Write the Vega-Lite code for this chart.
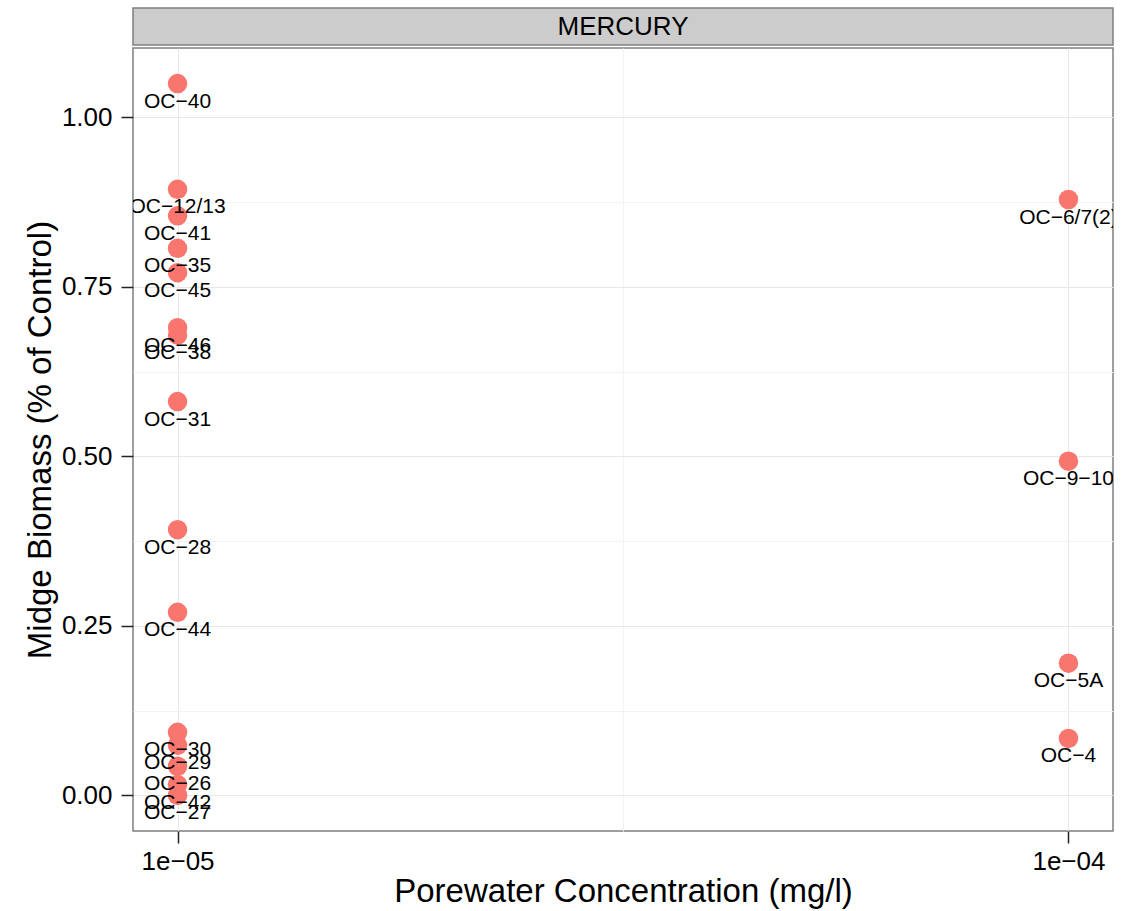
{
  "$schema": "https://vega.github.io/schema/vega-lite/v6.json",
  "background": "white",
  "padding": {"left": 23, "top": 7, "right": 5, "bottom": 0},
  "config": {"font": "Liberation Sans", "view": {"stroke": null}},
  "spacing": 1,
  "vconcat": [
    {
      "width": 980,
      "height": 37,
      "view": {"fill": "#CCCCCC", "stroke": "#7F7F7F", "strokeWidth": 1.5},
      "data": {"values": [{"panel": "MERCURY"}]},
      "mark": {"type": "text", "fontSize": 26, "font": "Liberation Sans", "color": "black", "baseline": "middle", "align": "center"},
      "encoding": {"text": {"field": "panel", "type": "nominal"}}
    },
    {
      "width": 980,
      "height": 783,
      "view": {"stroke": "#7F7F7F", "strokeWidth": 1.5},
      "data": {
        "values": [
          {"site": "OC−40", "conc": 0.00001, "biomass": 1.050},
          {"site": "OC−12/13", "conc": 0.00001, "biomass": 0.894},
          {"site": "OC−41", "conc": 0.00001, "biomass": 0.855},
          {"site": "OC−35", "conc": 0.00001, "biomass": 0.807},
          {"site": "OC−45", "conc": 0.00001, "biomass": 0.771},
          {"site": "OC−46", "conc": 0.00001, "biomass": 0.690},
          {"site": "OC−38", "conc": 0.00001, "biomass": 0.679},
          {"site": "OC−31", "conc": 0.00001, "biomass": 0.581},
          {"site": "OC−28", "conc": 0.00001, "biomass": 0.392},
          {"site": "OC−44", "conc": 0.00001, "biomass": 0.270},
          {"site": "OC−30", "conc": 0.00001, "biomass": 0.093},
          {"site": "OC−29", "conc": 0.00001, "biomass": 0.074},
          {"site": "OC−26", "conc": 0.00001, "biomass": 0.043},
          {"site": "OC−42", "conc": 0.00001, "biomass": 0.016},
          {"site": "OC−27", "conc": 0.00001, "biomass": 0.000},
          {"site": "OC−6/7(2)", "conc": 0.0001, "biomass": 0.879},
          {"site": "OC−9−10", "conc": 0.0001, "biomass": 0.493},
          {"site": "OC−5A", "conc": 0.0001, "biomass": 0.195},
          {"site": "OC−4", "conc": 0.0001, "biomass": 0.084}
        ]
      },
      "encoding": {
        "x": {
          "field": "conc",
          "type": "quantitative",
          "scale": {"type": "log", "domain": [0.0000089125, 0.000112202], "nice": false},
          "axis": {
            "title": "Porewater Concentration (mg/l)",
            "values": [0.00001, 0.0000316228, 0.0001],
            "labelExpr": "datum.value < 0.00002 ? '1e−05' : (datum.value > 0.00005 ? '1e−04' : '')",
            "gridColor": {"condition": {"test": "datum.value > 0.00002 && datum.value < 0.00005", "value": "#F3F3F3"}, "value": "#E8E8E8"},
            "tickOpacity": {"condition": {"test": "datum.value > 0.00002 && datum.value < 0.00005", "value": 0}, "value": 1},
            "gridWidth": 1,
            "domain": false,
            "tickColor": "#222222",
            "tickSize": 12,
            "tickWidth": 1.5,
            "labelFontSize": 26,
            "labelColor": "black",
            "labelPadding": 5,
            "labelFlush": false,
            "labelOverlap": false,
            "labelBound": false,
            "titleFontSize": 33,
            "titleFontWeight": "normal",
            "titleColor": "black",
            "titlePadding": 1
          }
        },
        "y": {
          "field": "biomass",
          "type": "quantitative",
          "scale": {"domain": [-0.0525, 1.1025], "nice": false, "zero": false},
          "axis": {
            "title": "Midge Biomass (% of Control)",
            "values": [0, 0.125, 0.25, 0.375, 0.5, 0.625, 0.75, 0.875, 1.0],
            "labelExpr": "(datum.value * 4) % 1 != 0 ? '' : format(datum.value, '.2f')",
            "gridColor": {"condition": {"test": "(datum.value * 4) % 1 != 0", "value": "#F3F3F3"}, "value": "#E8E8E8"},
            "tickOpacity": {"condition": {"test": "(datum.value * 4) % 1 != 0", "value": 0}, "value": 1},
            "gridWidth": 1,
            "domain": false,
            "tickColor": "#222222",
            "tickSize": 12,
            "tickWidth": 1.5,
            "labelFontSize": 26,
            "labelColor": "black",
            "labelPadding": 9,
            "labelOverlap": false,
            "labelBound": false,
            "titleFontSize": 33,
            "titleFontWeight": "normal",
            "titleColor": "black",
            "titlePadding": 4
          }
        }
      },
      "layer": [
        {
          "mark": {"type": "circle", "size": 380, "color": "#F8766D", "opacity": 1}
        },
        {
          "mark": {"type": "text", "fontSize": 21, "font": "Liberation Sans", "dy": 24, "baseline": "alphabetic", "align": "center", "color": "black", "clip": true},
          "encoding": {"text": {"field": "site", "type": "nominal"}}
        }
      ]
    }
  ]
}
